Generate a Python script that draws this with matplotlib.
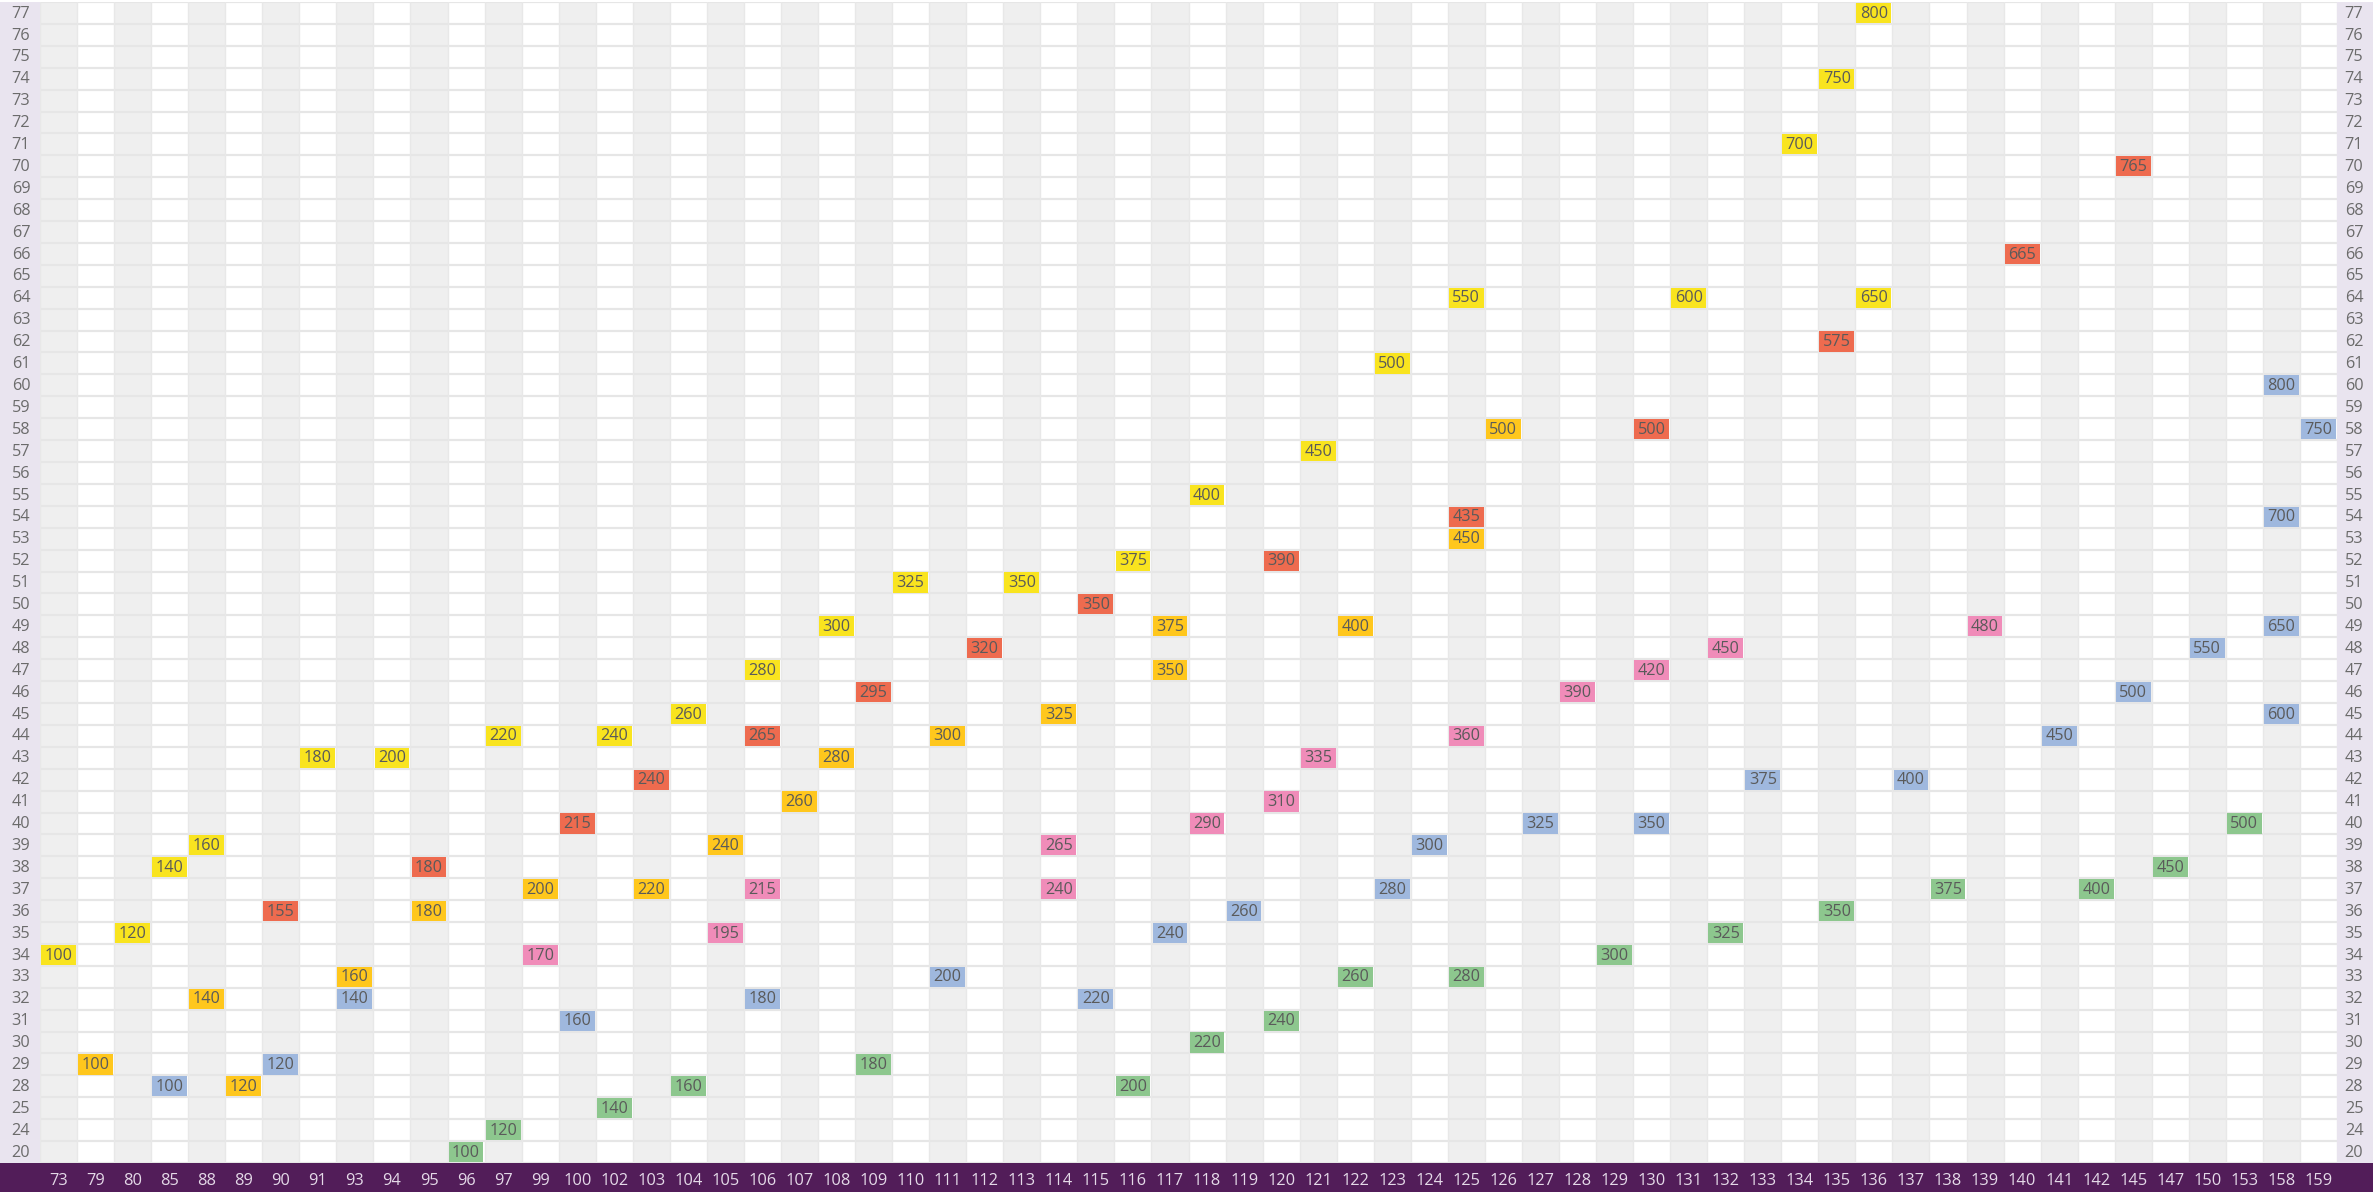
import matplotlib
matplotlib.use("Agg")
import matplotlib.pyplot as plt
from matplotlib.patches import Rectangle
from matplotlib import transforms

plt.rcParams['font.family'] = ['Open Sans', 'DejaVu Sans']

# ---------------- data ----------------
x_labels = [73, 79, 80, 85, 88, 89, 90, 91, 93, 94, 95, 96, 97, 99, 100, 102, 103, 104,
            105, 106, 107, 108, 109, 110, 111, 112, 113, 114, 115, 116, 117, 118, 119,
            120, 121, 122, 123, 124, 125, 126, 127, 128, 129, 130, 131, 132, 133, 134,
            135, 136, 137, 138, 139, 140, 141, 142, 145, 147, 150, 153, 158, 159]
y_labels = [20, 24, 25] + list(range(28, 78))

yellow_x = [73, 80, 85, 88, 91, 94, 97, 102, 104, 106, 108, 110, 113, 116, 118, 121, 123,
            125, 131, 134, 135, 136, 136]
yellow_y = [34, 35, 38, 39, 43, 43, 44, 44, 45, 47, 49, 51, 51, 52, 55, 57, 61,
            64, 64, 71, 74, 64, 77]
yellow_v = [100, 120, 140, 160, 180, 200, 220, 240, 260, 280, 300, 325, 350, 375, 400, 450, 500,
            550, 600, 700, 750, 650, 800]

orange_x = [79, 88, 89, 93, 95, 99, 103, 105, 107, 108, 111, 114, 117, 117, 122, 125, 126]
orange_y = [29, 32, 28, 33, 36, 37, 37, 39, 41, 43, 44, 45, 47, 49, 49, 53, 58]
orange_v = [100, 140, 120, 160, 180, 200, 220, 240, 260, 280, 300, 325, 350, 375, 400, 450, 500]

red_x = [90, 95, 100, 103, 106, 109, 112, 115, 120, 125, 130, 135, 140, 145]
red_y = [36, 38, 40, 42, 44, 46, 48, 50, 52, 54, 58, 62, 66, 70]
red_v = [155, 180, 215, 240, 265, 295, 320, 350, 390, 435, 500, 575, 665, 765]

pink_x = [99, 105, 106, 114, 114, 118, 120, 121, 125, 128, 130, 132, 139]
pink_y = [34, 35, 37, 37, 39, 40, 41, 43, 44, 46, 47, 48, 49]
pink_v = [170, 195, 215, 240, 265, 290, 310, 335, 360, 390, 420, 450, 480]

blue_x = [85, 90, 93, 100, 106, 111, 115, 117, 119, 123, 124, 127, 130, 133, 137, 141, 145,
          150, 158, 158, 158, 159, 158]
blue_y = [28, 29, 32, 31, 32, 33, 32, 35, 36, 37, 39, 40, 40, 42, 42, 44, 46,
          48, 45, 49, 54, 58, 60]
blue_v = [100, 120, 140, 160, 180, 200, 220, 240, 260, 280, 300, 325, 350, 375, 400, 450, 500,
          550, 600, 650, 700, 750, 800]

green_x = [96, 97, 102, 104, 109, 116, 118, 120, 122, 125, 129, 132, 135, 138, 142, 147, 153]
green_y = [20, 24, 25, 28, 29, 28, 30, 31, 33, 33, 34, 35, 36, 37, 37, 38, 40]
green_v = [100, 120, 140, 160, 180, 200, 220, 240, 260, 280, 300, 325, 350, 375, 400, 450, 500]

series = [
    (yellow_x, yellow_y, yellow_v, '#f9e41f'),
    (orange_x, orange_y, orange_v, '#ffc71d'),
    (red_x, red_y, red_v, '#ee6b4f'),
    (pink_x, pink_y, pink_v, '#f08cb9'),
    (blue_x, blue_y, blue_v, '#9fb8de'),
    (green_x, green_y, green_v, '#8dc78e'),
]

# ---------------- layout ----------------
W, H = 2373, 1192
fig = plt.figure(figsize=(W / 100, H / 100), dpi=100)
fig.patch.set_facecolor('white')

left_px, right_px, top_px, bottom_px = 40, 2337, 2, 1163
L = left_px / W
R = right_px / W
B = (H - bottom_px) / H
T = (H - top_px) / H

# side label columns and bottom band
fig.patches.append(Rectangle((0, B), L, T - B, transform=fig.transFigure,
                             facecolor='#e9e4ef', edgecolor='none', zorder=0))
fig.patches.append(Rectangle((R, B), 1 - R, T - B, transform=fig.transFigure,
                             facecolor='#e9e4ef', edgecolor='none', zorder=0))
fig.patches.append(Rectangle((0, 0), 1, B, transform=fig.transFigure,
                             facecolor='#521d59', edgecolor='none', zorder=0))

ax = fig.add_axes([L, B, R - L, T - B])
nx, ny = len(x_labels), len(y_labels)
ax.set_xlim(-0.5, nx - 0.5)
ax.set_ylim(-0.5, ny - 0.5)
for s in ax.spines.values():
    s.set_visible(False)
ax.set_xticks([])
ax.set_yticks([])

# column shading
for i in range(0, nx, 2):
    ax.axvspan(i - 0.5, i + 0.5, color='#efefef', zorder=0, lw=0)
# grid lines
for j in range(ny + 1):
    ax.axhline(j - 0.5, color='#e6e6e6', lw=1.6, zorder=1)
for i in range(nx + 1):
    ax.axvline(i - 0.5, color='#e8e8e8', lw=1.0, zorder=1)

# tiles
for xs, ys, vs, col in series:
    for xv, yv, val in zip(xs, ys, vs):
        xi = x_labels.index(xv)
        yi = y_labels.index(yv)
        ax.add_patch(Rectangle((xi - 0.47, yi - 0.46), 0.94, 0.92,
                               facecolor=col, edgecolor='none', zorder=2))
        ax.text(xi, yi - 0.03, str(val), ha='center', va='center',
                fontsize=11.7, color='#5a5a5a', zorder=3)

# y labels both sides
ty = transforms.blended_transform_factory(fig.transFigure, ax.transData)
for yi, lab in enumerate(y_labels):
    fig.text(21 / W, yi - 0.03, str(lab), transform=ty, ha='center', va='center',
             fontsize=11.7, color='#6b6b6b')
    fig.text(2354 / W, yi - 0.03, str(lab), transform=ty, ha='center', va='center',
             fontsize=11.7, color='#6b6b6b')

# x labels in bottom band
tx = transforms.blended_transform_factory(ax.transData, fig.transFigure)
for xi, lab in enumerate(x_labels):
    fig.text(xi, (H - 1181) / H, str(lab), transform=tx, ha='center', va='center',
             fontsize=11.8, color='#e4d9e8')

fig.savefig('out.png', dpi=100)
